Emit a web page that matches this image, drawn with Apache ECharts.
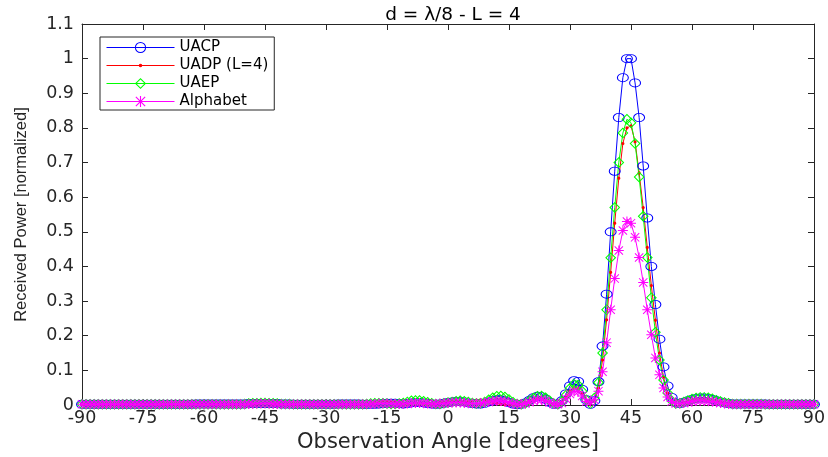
<!DOCTYPE html>
<html><head><meta charset="utf-8">
<script src="https://cdn.jsdelivr.net/npm/echarts@6/dist/echarts.min.js"></script>
<style>html,body{margin:0;padding:0;background:#fff}#c{width:828px;height:457px}</style>
</head><body><div id="c"></div>
<script>
// sample grid: observation angle in degrees, 1-degree steps
const angleStart = -90, angleEnd = 90;
const angles = [];
for (let a = angleStart; a <= angleEnd; a++) angles.push(a);

const seriesNames = ['UACP', 'UADP (L=4)', 'UAEP', 'Alphabet'];
const seriesColors = ['#0000ff', '#ff0000', '#00ff00', '#ff00ff'];

const uacp = [
  0.002,0.002,0.002,0.002,0.002,0.002,0.002,0.002,0.002,0.002,
  0.002,0.002,0.002,0.002,0.002,0.002,0.002,0.002,0.002,0.002,
  0.002,0.002,0.002,0.002,0.002,0.002,0.002,0.002,0.003,0.003,
  0.003,0.003,0.003,0.003,0.003,0.003,0.003,0.003,0.003,0.003,
  0.003,0.004,0.004,0.004,0.004,0.004,0.004,0.004,0.004,0.003,
  0.003,0.003,0.002,0.002,0.002,0.002,0.002,0.002,0.002,0.002,
  0.002,0.002,0.002,0.003,0.003,0.003,0.003,0.003,0.003,0.002,
  0.002,0.002,0.002,0.003,0.004,0.005,0.005,0.005,0.004,0.003,
  0.004,0.006,0.007,0.007,0.006,0.004,0.003,0.002,0.003,0.005,
  0.007,0.009,0.010,0.010,0.009,0.006,0.004,0.003,0.003,0.005,
  0.009,0.013,0.015,0.015,0.012,0.007,0.003,0.001,0.002,0.006,
  0.013,0.021,0.025,0.024,0.017,0.008,0.002,0.003,0.012,0.032,
  0.055,0.070,0.068,0.045,0.015,0.002,0.012,0.067,0.170,0.320,
  0.500,0.675,0.830,0.945,1.000,1.000,0.930,0.830,0.690,0.540,
  0.400,0.290,0.190,0.110,0.055,0.022,0.006,0.004,0.008,0.012,
  0.016,0.019,0.020,0.020,0.019,0.016,0.012,0.009,0.006,0.004,
  0.003,0.003,0.003,0.003,0.003,0.003,0.003,0.003,0.003,0.002,
  0.002,0.002,0.002,0.002,0.002,0.002,0.002,0.002,0.002,0.002,
  0.002
];

const uadp = [
  0.002,0.002,0.002,0.002,0.002,0.002,0.002,0.002,0.002,0.002,
  0.002,0.002,0.002,0.002,0.002,0.002,0.002,0.002,0.002,0.002,
  0.002,0.002,0.002,0.002,0.002,0.002,0.002,0.002,0.002,0.002,
  0.002,0.002,0.002,0.002,0.002,0.002,0.002,0.002,0.002,0.002,
  0.002,0.003,0.003,0.003,0.004,0.004,0.004,0.003,0.003,0.002,
  0.002,0.002,0.002,0.002,0.002,0.002,0.002,0.002,0.002,0.002,
  0.002,0.002,0.002,0.002,0.002,0.002,0.002,0.002,0.002,0.002,
  0.003,0.005,0.007,0.009,0.010,0.010,0.009,0.007,0.005,0.003,
  0.003,0.004,0.005,0.005,0.004,0.003,0.003,0.004,0.006,0.008,
  0.010,0.011,0.011,0.010,0.009,0.010,0.012,0.014,0.015,0.013,
  0.010,0.007,0.004,0.002,0.001,0.001,0.001,0.002,0.004,0.007,
  0.011,0.015,0.018,0.018,0.014,0.008,0.003,0.002,0.008,0.022,
  0.040,0.050,0.048,0.032,0.012,0.004,0.012,0.050,0.130,0.246,
  0.383,0.525,0.655,0.755,0.800,0.806,0.760,0.670,0.570,0.455,
  0.345,0.245,0.150,0.080,0.035,0.012,0.004,0.004,0.008,0.012,
  0.015,0.017,0.018,0.018,0.017,0.015,0.012,0.009,0.006,0.004,
  0.003,0.003,0.003,0.003,0.003,0.003,0.003,0.002,0.002,0.002,
  0.002,0.002,0.002,0.002,0.002,0.002,0.002,0.002,0.002,0.002,
  0.002
];

const uaep = [
  0.002,0.002,0.002,0.002,0.002,0.002,0.002,0.002,0.002,0.002,
  0.002,0.002,0.002,0.002,0.002,0.002,0.002,0.002,0.002,0.002,
  0.002,0.002,0.002,0.002,0.002,0.002,0.002,0.002,0.002,0.002,
  0.002,0.002,0.002,0.002,0.002,0.002,0.002,0.002,0.002,0.002,
  0.003,0.004,0.005,0.005,0.006,0.006,0.005,0.005,0.004,0.003,
  0.003,0.003,0.002,0.002,0.002,0.002,0.002,0.002,0.002,0.002,
  0.002,0.002,0.002,0.002,0.002,0.002,0.002,0.002,0.002,0.002,
  0.003,0.004,0.005,0.005,0.005,0.004,0.003,0.003,0.004,0.006,
  0.009,0.012,0.013,0.013,0.011,0.008,0.005,0.003,0.003,0.005,
  0.007,0.009,0.011,0.012,0.011,0.009,0.006,0.004,0.005,0.009,
  0.015,0.021,0.025,0.026,0.023,0.016,0.008,0.003,0.002,0.005,
  0.012,0.020,0.025,0.026,0.021,0.012,0.004,0.002,0.010,0.028,
  0.048,0.060,0.058,0.040,0.015,0.004,0.020,0.065,0.150,0.275,
  0.425,0.570,0.700,0.785,0.825,0.815,0.755,0.658,0.545,0.426,
  0.310,0.210,0.130,0.072,0.035,0.012,0.004,0.005,0.009,0.013,
  0.017,0.020,0.022,0.022,0.021,0.018,0.014,0.010,0.007,0.005,
  0.003,0.003,0.003,0.003,0.003,0.003,0.003,0.003,0.002,0.002,
  0.002,0.002,0.002,0.002,0.002,0.002,0.002,0.002,0.002,0.002,
  0.002
];

const alphabet = [
  0.002,0.002,0.002,0.002,0.002,0.002,0.002,0.002,0.002,0.002,
  0.002,0.002,0.002,0.002,0.002,0.002,0.002,0.002,0.002,0.002,
  0.002,0.002,0.002,0.002,0.002,0.002,0.002,0.002,0.002,0.002,
  0.002,0.002,0.002,0.002,0.002,0.002,0.002,0.002,0.002,0.002,
  0.002,0.003,0.003,0.004,0.004,0.004,0.004,0.003,0.003,0.002,
  0.002,0.002,0.002,0.002,0.002,0.002,0.002,0.002,0.002,0.002,
  0.002,0.002,0.002,0.002,0.002,0.002,0.002,0.002,0.002,0.002,
  0.002,0.003,0.003,0.004,0.004,0.004,0.004,0.003,0.003,0.003,
  0.004,0.005,0.006,0.006,0.005,0.004,0.003,0.003,0.004,0.005,
  0.006,0.007,0.007,0.007,0.006,0.005,0.004,0.004,0.005,0.007,
  0.009,0.011,0.012,0.012,0.010,0.007,0.004,0.002,0.002,0.004,
  0.008,0.012,0.015,0.015,0.012,0.007,0.003,0.002,0.006,0.018,
  0.032,0.040,0.038,0.026,0.010,0.008,0.015,0.040,0.096,0.180,
  0.275,0.365,0.446,0.504,0.530,0.525,0.484,0.426,0.354,0.275,
  0.203,0.136,0.087,0.049,0.023,0.010,0.004,0.004,0.006,0.008,
  0.010,0.012,0.012,0.012,0.011,0.010,0.008,0.006,0.004,0.003,
  0.002,0.002,0.002,0.002,0.002,0.002,0.002,0.002,0.002,0.002,
  0.002,0.002,0.002,0.002,0.002,0.002,0.002,0.002,0.002,0.002,
  0.002
];

const FONT = '"Liberation Sans", Arial, Helvetica, sans-serif';
const WIDE = '"DejaVu Sans", "Liberation Sans", sans-serif';
const AX = '#262626';
// hollow (unfilled) marker outlines, like MATLAB's 'o' and 'd'
const ringPath = 'path://M0,5A5,5 0 1,1 10,5A5,5 0 1,1 0,5Z M0.9,5A4.1,4.1 0 1,0 9.1,5A4.1,4.1 0 1,0 0.9,5Z';
const diamondPath = 'path://M5,0L10,5L5,10L0,5Z M5,1.35L1.35,5L5,8.65L8.65,5Z';
const dotPath = 'path://M0,0L0.01,0L0,0.01Z M10,10L9.99,10L10,9.99Z M3.4,5A1.6,1.6 0 1,1 6.6,5A1.6,1.6 0 1,1 3.4,5Z';
const starPath = 'path://M4.5,0H5.5V10H4.5Z M0,4.5H10V5.5H0Z M1.2,0.5L9.5,8.8L8.8,9.5L0.5,1.2Z M8.8,0.5L9.5,1.2L1.2,9.5L0.5,8.8Z';
const symbols = [ringPath, dotPath, diamondPath, starPath];
const symbolSizes = [[12, 9], 10, [11, 11], 10];
const seriesValues = [uacp, uadp, uaep, alphabet];

function pairs(vals) { return angles.map((a, i) => [a, vals[i]]); }

const chart = echarts.init(document.getElementById('c'), null, {renderer: 'canvas'});

const xBase = {
  type: 'value', min: -90, max: 90, interval: 15,
  axisLine: {onZero: false, lineStyle: {color: AX, width: 1}},
  axisTick: {inside: true, length: 6, lineStyle: {color: AX}},
  splitLine: {show: false}
};
const yBase = {
  type: 'value', min: 0, max: 1.1, interval: 0.1,
  axisLine: {show: true, onZero: false, lineStyle: {color: AX, width: 1}},
  axisTick: {show: true, inside: true, length: 6, lineStyle: {color: AX}},
  splitLine: {show: false}
};

chart.setOption({
  animation: false,
  backgroundColor: '#fff',
  title: {
    text: 'd = λ/8 - L = 4', left: 448, top: 1, textAlign: 'center',
    textStyle: {fontFamily: WIDE, fontSize: 18.5, fontWeight: 'normal', color: '#000'}
  },
  grid: {left: 82, right: 14, top: 24, bottom: 52, containLabel: false, outerBoundsMode: 'none'},
  legend: {
    orient: 'vertical', left: 100, top: 37,
    itemWidth: 68, itemHeight: 14, itemGap: 3,
    padding: [3, 6, 1, 6],
    borderColor: AX, borderWidth: 1, backgroundColor: '#fff',
    textStyle: {fontFamily: WIDE, fontSize: 15, lineHeight: 14, color: '#000'},
    data: seriesNames.map((n, i) => ({
      name: n,
      lineStyle: {color: seriesColors[i], width: 1},
      itemStyle: {color: seriesColors[i]}
    }))
  },
  xAxis: [
    Object.assign({}, xBase, {
      position: 'bottom',
      axisLabel: {color: AX, fontFamily: WIDE, fontSize: 17.5, margin: 4},
      name: 'Observation Angle [degrees]', nameLocation: 'middle', nameGap: 22,
      nameTextStyle: {fontFamily: WIDE, fontSize: 21, color: AX}
    }),
    Object.assign({}, xBase, {position: 'top', axisLabel: {show: false}})
  ],
  yAxis: [
    Object.assign({}, yBase, {
      position: 'left',
      axisLabel: {color: AX, fontFamily: WIDE, fontSize: 17.5, margin: 8},
      name: 'Received Power [normalized]', nameLocation: 'middle', nameGap: 52,
      nameTextStyle: {fontFamily: FONT, fontSize: 16.5, color: AX}
    }),
    Object.assign({}, yBase, {position: 'right', axisLabel: {show: false}})
  ],
  series: seriesNames.map((n, i) => ({
    name: n, type: 'line', data: pairs(seriesValues[i]),
    xAxisIndex: 0, yAxisIndex: 0,
    symbol: symbols[i], symbolSize: symbolSizes[i],
    lineStyle: {color: seriesColors[i], width: 1},
    itemStyle: {color: seriesColors[i]},
    emphasis: {disabled: true}
  }))
});
</script></body></html>
